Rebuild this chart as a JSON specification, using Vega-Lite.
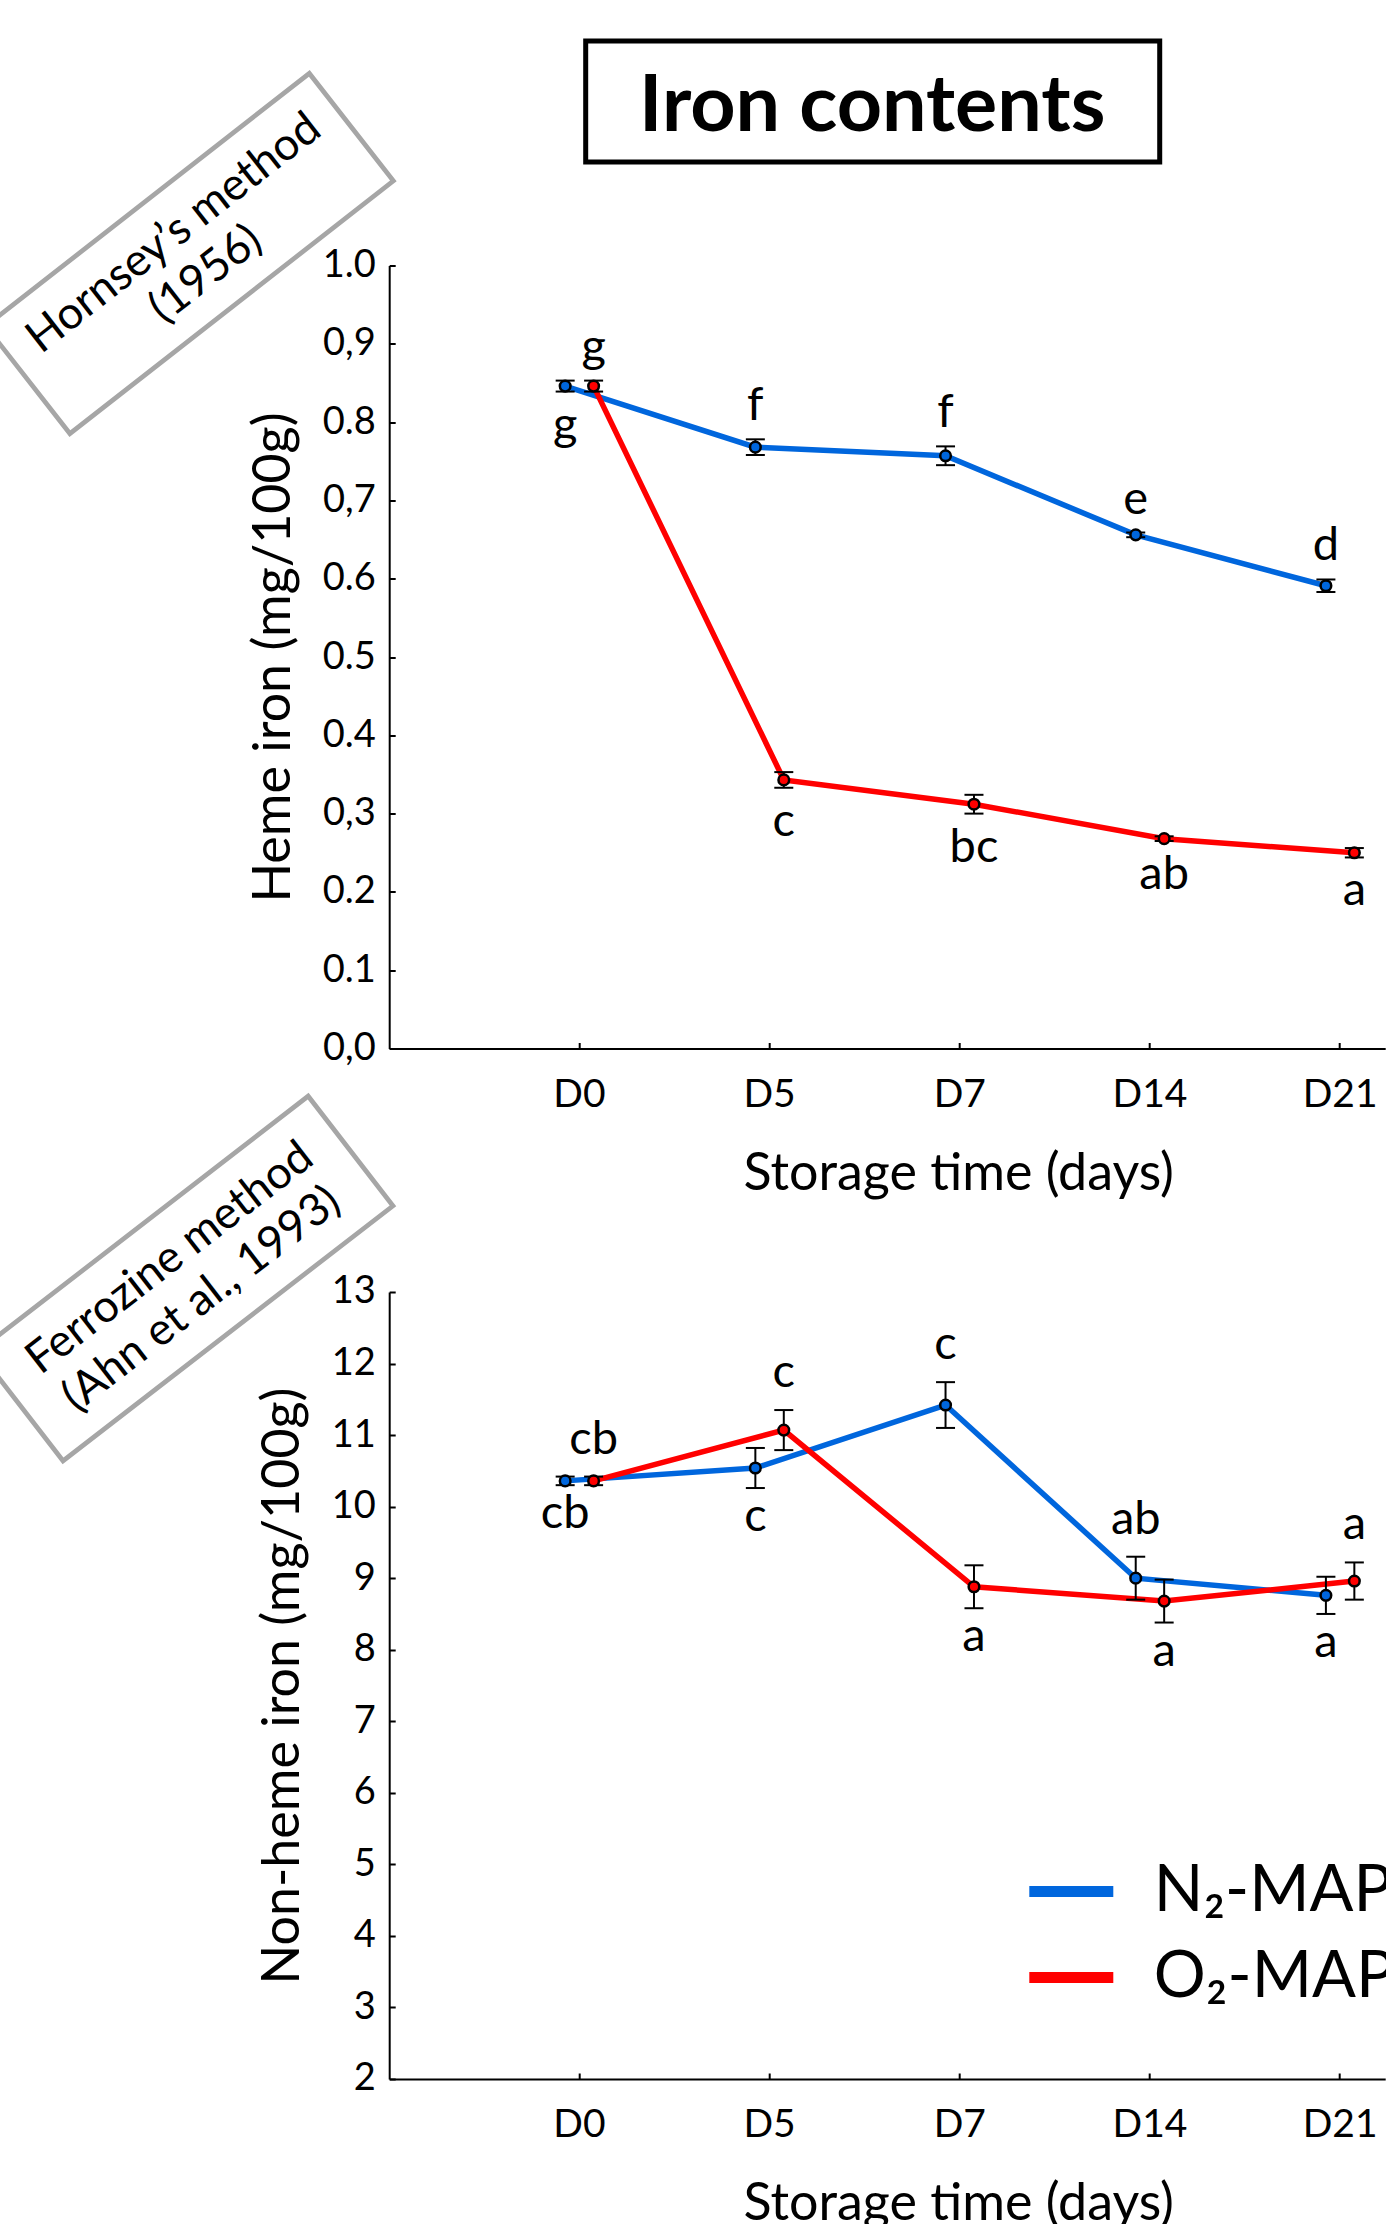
{
  "$schema": "https://vega.github.io/schema/vega-lite/v6.json",
  "background": "white",
  "padding": {"left": -31.2, "top": 38, "right": 0, "bottom": 0},
  "columns": 2,
  "bounds": "flush",
  "align": "each",
  "spacing": {"row": 103.5, "column": 8.4},
  "datasets": {
    "heme": [
      {"t": 0, "group": "N₂-MAP", "mean": 0.846, "lo": 0.839, "hi": 0.853, "letter": "g", "side": "below"},
      {"t": 5, "group": "N₂-MAP", "mean": 0.768, "lo": 0.758, "hi": 0.778, "letter": "f", "side": "above"},
      {"t": 7, "group": "N₂-MAP", "mean": 0.757, "lo": 0.745, "hi": 0.769, "letter": "f", "side": "above"},
      {"t": 14, "group": "N₂-MAP", "mean": 0.656, "lo": 0.653, "hi": 0.659, "letter": "e", "side": "above"},
      {"t": 21, "group": "N₂-MAP", "mean": 0.591, "lo": 0.583, "hi": 0.599, "letter": "d", "side": "above"},
      {"t": 0, "group": "O₂-MAP", "mean": 0.846, "lo": 0.839, "hi": 0.853, "letter": "g", "side": "above"},
      {"t": 5, "group": "O₂-MAP", "mean": 0.343, "lo": 0.333, "hi": 0.353, "letter": "c", "side": "below"},
      {"t": 7, "group": "O₂-MAP", "mean": 0.312, "lo": 0.300, "hi": 0.324, "letter": "bc", "side": "below"},
      {"t": 14, "group": "O₂-MAP", "mean": 0.268, "lo": 0.265, "hi": 0.271, "letter": "ab", "side": "below"},
      {"t": 21, "group": "O₂-MAP", "mean": 0.250, "lo": 0.244, "hi": 0.256, "letter": "a", "side": "below"}
    ],
    "nonheme": [
      {"t": 0, "group": "N₂-MAP", "mean": 10.36, "lo": 10.30, "hi": 10.42, "letter": "cb", "side": "below"},
      {"t": 5, "group": "N₂-MAP", "mean": 10.54, "lo": 10.26, "hi": 10.82, "letter": "c", "side": "below"},
      {"t": 7, "group": "N₂-MAP", "mean": 11.42, "lo": 11.10, "hi": 11.74, "letter": "c", "side": "above"},
      {"t": 14, "group": "N₂-MAP", "mean": 9.00, "lo": 8.70, "hi": 9.30, "letter": "ab", "side": "above"},
      {"t": 21, "group": "N₂-MAP", "mean": 8.76, "lo": 8.50, "hi": 9.02, "letter": "a", "side": "below"},
      {"t": 0, "group": "O₂-MAP", "mean": 10.36, "lo": 10.30, "hi": 10.42, "letter": "cb", "side": "above"},
      {"t": 5, "group": "O₂-MAP", "mean": 11.07, "lo": 10.79, "hi": 11.35, "letter": "c", "side": "above"},
      {"t": 7, "group": "O₂-MAP", "mean": 8.88, "lo": 8.58, "hi": 9.18, "letter": "a", "side": "below"},
      {"t": 14, "group": "O₂-MAP", "mean": 8.68, "lo": 8.38, "hi": 8.98, "letter": "a", "side": "below"},
      {"t": 21, "group": "O₂-MAP", "mean": 8.96, "lo": 8.70, "hi": 9.22, "letter": "a", "side": "above"}
    ]
  },
  "concat": [
    {"width": 1, "height": 121, "data": {"values": []}, "mark": "point"},
    {
      "width": 996, "height": 121,
      "data": {"values": [{"title": "Iron contents"}]},
      "encoding": {"x": {"datum": 1.5397, "type": "quantitative", "scale": {"domain": [-1, 4.237], "nice": false, "zero": false}, "axis": null}},
      "layer": [
        {"mark": {"type": "rect", "filled": false, "fill": null, "stroke": "black", "strokeWidth": 5, "opacity": 1},
         "encoding": {"x": {"datum": 0.0332, "type": "quantitative", "scale": {"domain": [-1, 4.237], "nice": false, "zero": false}, "axis": null}, "x2": {"datum": 3.0514}}},
        {"mark": {"type": "text", "font": "Lato", "fontWeight": "bold", "fontSize": 79, "align": "center", "baseline": "middle", "dy": 5, "color": "black"},
         "encoding": {"text": {"field": "title"}}}
      ]
    },
    {
      "width": 381.6, "height": 922.5,
      "data": {"values": [{"note": "Hornsey’s method\n(1956)"}]},
      "encoding": {"y": {"datum": 1.013, "type": "quantitative", "scale": {"domain": [0, 1]}, "axis": null}},
      "layer": [
        {"mark": {"type": "point", "shape": "M -1 -0.3325 L 1 -0.3325 L 1 0.3325 L -1 0.3325 Z", "size": 168510, "angle": -38, "filled": false, "stroke": "#a6a6a6", "strokeWidth": 4.7, "opacity": 1}},
        {"mark": {"type": "text", "angle": -38, "fontSize": 45, "lineBreak": "\n", "lineHeight": 52, "align": "center", "baseline": "middle", "dy": -26, "color": "black"}, "encoding": {"text": {"field": "note"}}}
      ]
    },
    {
      "width": 996, "height": 783,
      "data": {"name": "heme"},
      "encoding": {
        "x": {"field": "t", "type": "ordinal", "scale": {"paddingInner": 0.526, "paddingOuter": 0.3815, "align": 1},
              "axis": {"title": "Storage time (days)", "labelExpr": "'D' + datum.value", "labelAngle": 0, "labelFontSize": 39, "titleFontSize": 52, "titleX": 569, "tickSize": -6, "labelPadding": 33, "titlePadding": 34}},
        "xOffset": {"field": "group", "type": "nominal", "scale": {"paddingInner": 0, "paddingOuter": 0.585}}
      },
      "layer": [
        {
          "mark": {"type": "line", "strokeWidth": 5.5},
          "encoding": {
            "y": {"field": "mean", "type": "quantitative", "scale": {"domain": [0, 1]}, "title": "Heme iron (mg/100g)",
                  "axis": {"values": [0, 0.1, 0.2, 0.3, 0.4, 0.5, 0.6, 0.7, 0.8, 0.9, 1.0], "labelExpr": "indexof([9,7,3,0], round(datum.value*10)) >= 0 ? replace(format(datum.value, '.1f'), '.', ',') : format(datum.value, '.1f')", "labelFontSize": 38, "titleFontSize": 52, "tickSize": -6, "labelPadding": 20, "titlePadding": 22}},
            "color": {"field": "group", "type": "nominal", "scale": {"domain": ["N₂-MAP", "O₂-MAP"], "range": ["#0066dd", "#ff0000"]},
                      "legend": {"title": null, "orient": "none", "legendX": 1025, "legendY": 1803, "symbolType": "stroke", "symbolStrokeWidth": 11, "symbolSize": 7056, "labelFontSize": 65, "labelFont": "Lato", "labelColor": "black", "labelOffset": 35, "rowPadding": 5, "labelLimit": 0, "padding": 0, "labelBaseline": "middle"}}
          }
        },
        {"mark": {"type": "rule", "color": "black", "strokeWidth": 2}, "encoding": {"y": {"field": "lo", "type": "quantitative", "title": "Heme iron (mg/100g)"}, "y2": {"field": "hi"}}},
        {"mark": {"type": "tick", "color": "black", "thickness": 2, "size": 19, "opacity": 1}, "encoding": {"y": {"field": "lo", "type": "quantitative", "title": "Heme iron (mg/100g)"}}},
        {"mark": {"type": "tick", "color": "black", "thickness": 2, "size": 19, "opacity": 1}, "encoding": {"y": {"field": "hi", "type": "quantitative", "title": "Heme iron (mg/100g)"}}},
        {"mark": {"type": "point", "shape": "circle", "filled": true, "size": 113, "stroke": "black", "strokeWidth": 2.5, "opacity": 1},
         "encoding": {"y": {"field": "mean", "type": "quantitative", "title": "Heme iron (mg/100g)"}, "fill": {"field": "group", "type": "nominal", "scale": {"domain": ["N₂-MAP", "O₂-MAP"], "range": ["#0066dd", "#ff0000"]}, "legend": null}}},
        {"transform": [{"filter": "datum.side == 'above'"}],
         "mark": {"type": "text", "baseline": "alphabetic", "align": "center", "dy": -19, "fontSize": 47, "color": "black"},
         "encoding": {"y": {"field": "hi", "type": "quantitative", "title": "Heme iron (mg/100g)"}, "text": {"field": "letter"}}},
        {"transform": [{"filter": "datum.side == 'below'"}],
         "mark": {"type": "text", "baseline": "alphabetic", "align": "center", "dy": 48, "fontSize": 47, "color": "black"},
         "encoding": {"y": {"field": "lo", "type": "quantitative", "title": "Heme iron (mg/100g)"}, "text": {"field": "letter"}}}
      ]
    },
    {
      "width": 373.6, "height": 787,
      "data": {"values": [{"note": "Ferrozine method\n(Ahn et al., 1993)"}]},
      "encoding": {"y": {"datum": 13.189, "type": "quantitative", "scale": {"domain": [2, 13]}, "axis": null}},
      "layer": [
        {"mark": {"type": "point", "shape": "M -1 -0.3325 L 1 -0.3325 L 1 0.3325 L -1 0.3325 Z", "size": 173889, "angle": -37.7, "filled": false, "stroke": "#a6a6a6", "strokeWidth": 4.7, "opacity": 1}},
        {"mark": {"type": "text", "angle": -37.7, "fontSize": 45, "lineBreak": "\n", "lineHeight": 52, "align": "center", "baseline": "middle", "dy": -26, "color": "black"}, "encoding": {"text": {"field": "note"}}}
      ]
    },
    {
      "width": 996, "height": 787,
      "data": {"name": "nonheme"},
      "encoding": {
        "x": {"field": "t", "type": "ordinal", "scale": {"paddingInner": 0.526, "paddingOuter": 0.3815, "align": 1},
              "axis": {"title": "Storage time (days)", "labelExpr": "'D' + datum.value", "labelAngle": 0, "labelFontSize": 39, "titleFontSize": 52, "titleX": 569, "tickSize": -6, "labelPadding": 33, "titlePadding": 34}},
        "xOffset": {"field": "group", "type": "nominal", "scale": {"paddingInner": 0, "paddingOuter": 0.585}}
      },
      "layer": [
        {
          "mark": {"type": "line", "strokeWidth": 5.5},
          "encoding": {
            "y": {"field": "mean", "type": "quantitative", "scale": {"domain": [2, 13]}, "title": "Non-heme iron (mg/100g)",
                  "axis": {"values": [2, 3, 4, 5, 6, 7, 8, 9, 10, 11, 12, 13], "format": "d", "labelFontSize": 38, "titleFontSize": 52, "tickSize": -6, "labelPadding": 20, "titlePadding": 22}},
            "color": {"field": "group", "type": "nominal", "scale": {"domain": ["N₂-MAP", "O₂-MAP"], "range": ["#0066dd", "#ff0000"]},
                      "legend": {"title": null, "orient": "none", "legendX": 1025, "legendY": 1803, "symbolType": "stroke", "symbolStrokeWidth": 11, "symbolSize": 7056, "labelFontSize": 65, "labelFont": "Lato", "labelColor": "black", "labelOffset": 35, "rowPadding": 5, "labelLimit": 0, "padding": 0, "labelBaseline": "middle"}}
          }
        },
        {"mark": {"type": "rule", "color": "black", "strokeWidth": 2}, "encoding": {"y": {"field": "lo", "type": "quantitative", "title": "Non-heme iron (mg/100g)"}, "y2": {"field": "hi"}}},
        {"mark": {"type": "tick", "color": "black", "thickness": 2, "size": 19, "opacity": 1}, "encoding": {"y": {"field": "lo", "type": "quantitative", "title": "Non-heme iron (mg/100g)"}}},
        {"mark": {"type": "tick", "color": "black", "thickness": 2, "size": 19, "opacity": 1}, "encoding": {"y": {"field": "hi", "type": "quantitative", "title": "Non-heme iron (mg/100g)"}}},
        {"mark": {"type": "point", "shape": "circle", "filled": true, "size": 113, "stroke": "black", "strokeWidth": 2.5, "opacity": 1},
         "encoding": {"y": {"field": "mean", "type": "quantitative", "title": "Non-heme iron (mg/100g)"}, "fill": {"field": "group", "type": "nominal", "scale": {"domain": ["N₂-MAP", "O₂-MAP"], "range": ["#0066dd", "#ff0000"]}, "legend": null}}},
        {"transform": [{"filter": "datum.side == 'above'"}],
         "mark": {"type": "text", "baseline": "alphabetic", "align": "center", "dy": -23, "fontSize": 47, "color": "black"},
         "encoding": {"y": {"field": "hi", "type": "quantitative", "title": "Non-heme iron (mg/100g)"}, "text": {"field": "letter"}}},
        {"transform": [{"filter": "datum.side == 'below'"}],
         "mark": {"type": "text", "baseline": "alphabetic", "align": "center", "dy": 43, "fontSize": 47, "color": "black"},
         "encoding": {"y": {"field": "lo", "type": "quantitative", "title": "Non-heme iron (mg/100g)"}, "text": {"field": "letter"}}}
      ]
    }
  ],
  "resolve": {"scale": {"xOffset": "independent"}},
  "config": {
    "font": "Lato",
    "view": {"stroke": null},
    "axis": {"domainColor": "black", "domainWidth": 2, "tickColor": "black", "tickWidth": 2, "labelColor": "black", "titleColor": "black", "titleFontWeight": "normal", "labelFont": "Lato", "titleFont": "Lato", "grid": false},
    "legend": {"labelFont": "Lato"}
  }
}
